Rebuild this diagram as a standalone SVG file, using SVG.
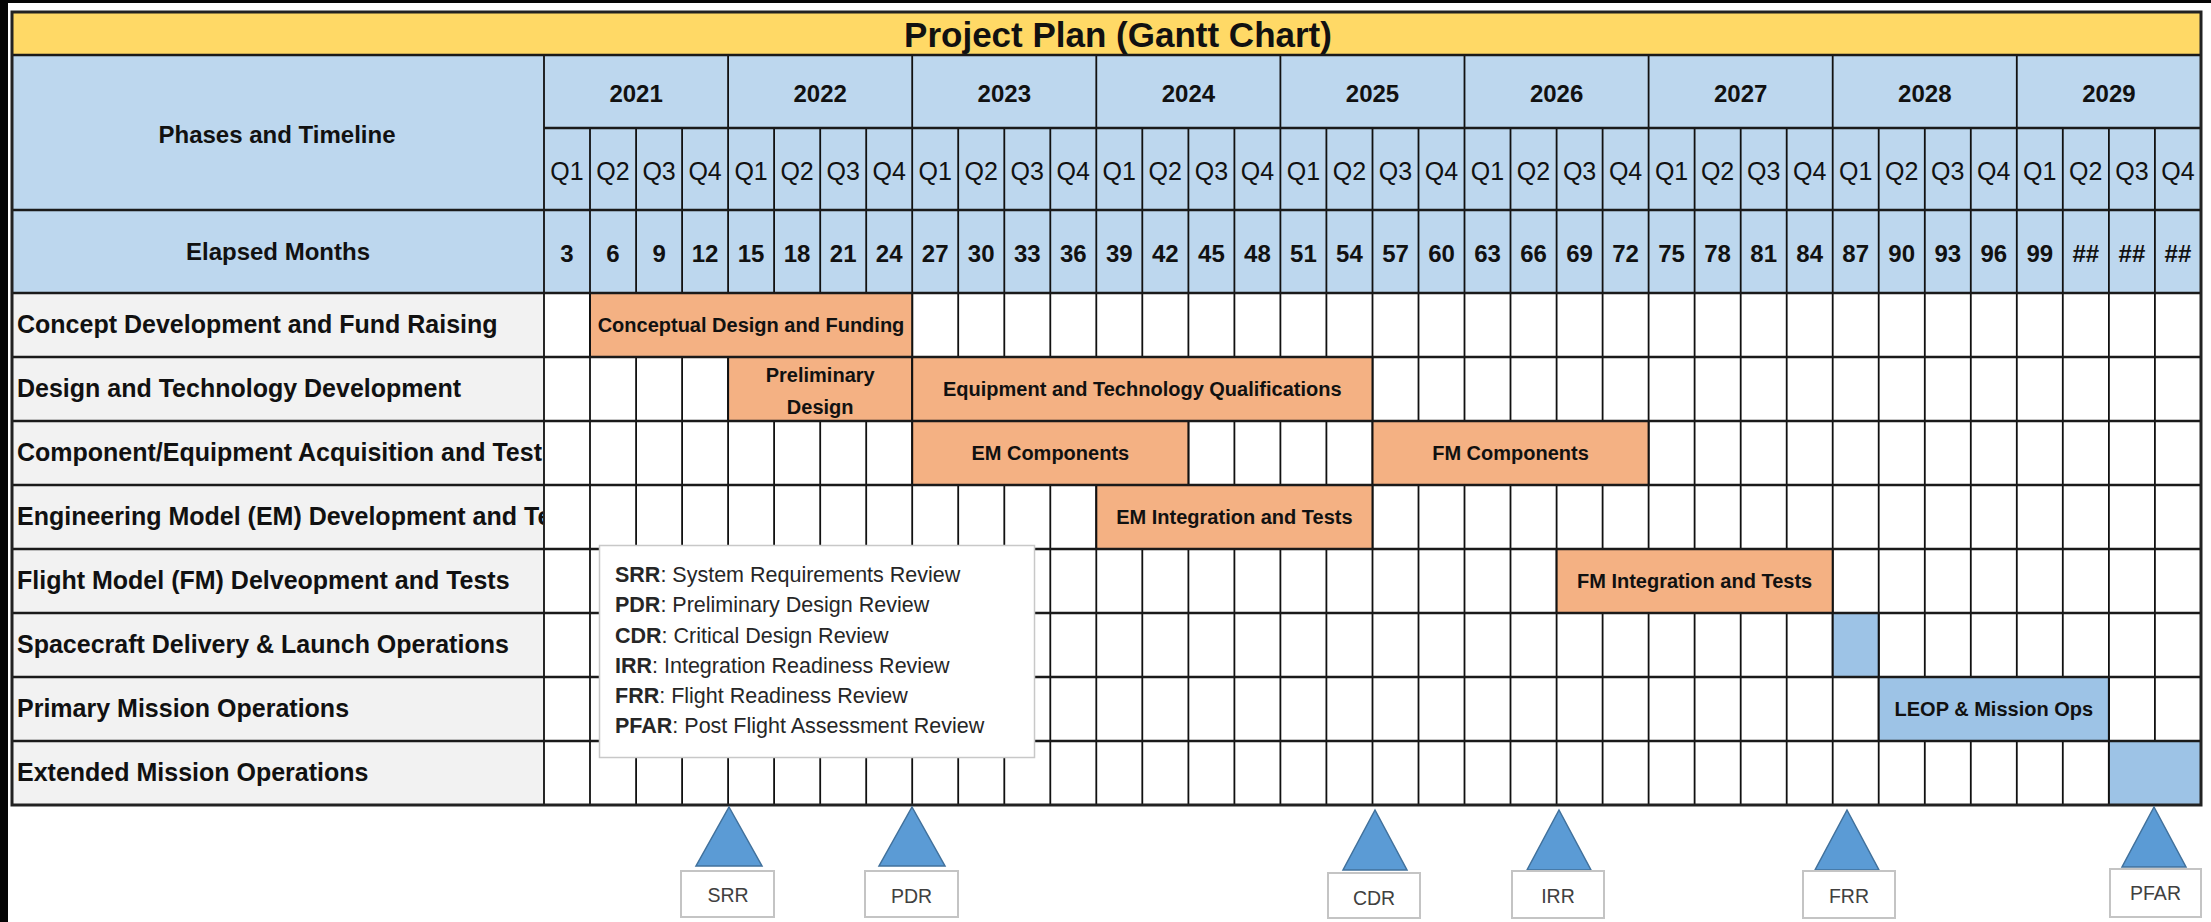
<svg xmlns="http://www.w3.org/2000/svg" width="2211" height="922" viewBox="0 0 2211 922">
  <defs>
    <style>
      .t { font-family: "Liberation Sans", Arial, sans-serif; fill: #111; }
      .b { font-weight: bold; }
      .c { text-anchor: middle; }
      .title { font-size: 35px; font-weight: bold; }
      .hdr { font-size: 24px; font-weight: bold; }
      .yr { font-size: 24px; font-weight: bold; }
      .q { font-size: 25px; }
      .num { font-size: 24px; font-weight: bold; }
      .lbl { font-size: 25px; font-weight: bold; }
      .bar { font-size: 20px; font-weight: bold; }
      .leg { font-size: 21.5px; fill: #262626; }
      .ms { font-size: 19.5px; fill: #404040; }
      .vl { stroke: #111; stroke-width: 1.8; }
      .hl { stroke: #1a1a1a; stroke-width: 2.6; }
      .orange { fill: #F4B183; stroke: #111; stroke-width: 2; }
      .blue { fill: #9DC3E6; stroke: #111; stroke-width: 2; }
      .tri { fill: #5B9BD5; stroke: #41719C; stroke-width: 1.5; }
      .msbox { fill: #fff; stroke: #C4C4C4; stroke-width: 2; }
    </style>
    <clipPath id="labelClip">
      <rect x="12" y="293" width="531" height="512"/>
    </clipPath>
  </defs>

  <!-- page background -->
  <rect x="0" y="0" width="2211" height="922" fill="#fff"/>
  <rect x="0" y="0" width="8" height="922" fill="#050505"/>
  <rect x="0" y="0" width="2211" height="3" fill="#050505"/>

  <!-- title band -->
  <g id="title">
    <rect x="12" y="12" width="2189" height="43" fill="#FFD966"/>
    <text class="t title c" x="1118" y="47">Project Plan (Gantt Chart)</text>
  </g>

  <!-- header area -->
  <g id="header">
    <rect x="12" y="55" width="2189" height="238" fill="#BDD7EE"/>
    <text class="t hdr c" x="277" y="143">Phases and Timeline</text>
    <text class="t hdr c" x="278" y="260">Elapsed Months</text>
    <g id="years">
      <text class="t yr c" x="636.1" y="102">2021</text>
      <text class="t yr c" x="820.2" y="102">2022</text>
      <text class="t yr c" x="1004.3" y="102">2023</text>
      <text class="t yr c" x="1188.4" y="102">2024</text>
      <text class="t yr c" x="1372.5" y="102">2025</text>
      <text class="t yr c" x="1556.6" y="102">2026</text>
      <text class="t yr c" x="1740.7" y="102">2027</text>
      <text class="t yr c" x="1924.8" y="102">2028</text>
      <text class="t yr c" x="2108.9" y="102">2029</text>
    </g>
    <g id="quarters">
      <text class="t q c" x="567" y="180">Q1</text><text class="t q c" x="613" y="180">Q2</text><text class="t q c" x="659.1" y="180">Q3</text><text class="t q c" x="705.1" y="180">Q4</text>
      <text class="t q c" x="751.1" y="180">Q1</text><text class="t q c" x="797.1" y="180">Q2</text><text class="t q c" x="843.2" y="180">Q3</text><text class="t q c" x="889.2" y="180">Q4</text>
      <text class="t q c" x="935.2" y="180">Q1</text><text class="t q c" x="981.2" y="180">Q2</text><text class="t q c" x="1027.3" y="180">Q3</text><text class="t q c" x="1073.3" y="180">Q4</text>
      <text class="t q c" x="1119.3" y="180">Q1</text><text class="t q c" x="1165.3" y="180">Q2</text><text class="t q c" x="1211.4" y="180">Q3</text><text class="t q c" x="1257.4" y="180">Q4</text>
      <text class="t q c" x="1303.4" y="180">Q1</text><text class="t q c" x="1349.4" y="180">Q2</text><text class="t q c" x="1395.5" y="180">Q3</text><text class="t q c" x="1441.5" y="180">Q4</text>
      <text class="t q c" x="1487.5" y="180">Q1</text><text class="t q c" x="1533.5" y="180">Q2</text><text class="t q c" x="1579.6" y="180">Q3</text><text class="t q c" x="1625.6" y="180">Q4</text>
      <text class="t q c" x="1671.6" y="180">Q1</text><text class="t q c" x="1717.6" y="180">Q2</text><text class="t q c" x="1763.7" y="180">Q3</text><text class="t q c" x="1809.7" y="180">Q4</text>
      <text class="t q c" x="1855.7" y="180">Q1</text><text class="t q c" x="1901.7" y="180">Q2</text><text class="t q c" x="1947.8" y="180">Q3</text><text class="t q c" x="1993.8" y="180">Q4</text>
      <text class="t q c" x="2039.8" y="180">Q1</text><text class="t q c" x="2085.8" y="180">Q2</text><text class="t q c" x="2131.9" y="180">Q3</text><text class="t q c" x="2177.9" y="180">Q4</text>
    </g>
    <g id="months">
      <text class="t num c" x="567" y="262">3</text><text class="t num c" x="613" y="262">6</text><text class="t num c" x="659.1" y="262">9</text><text class="t num c" x="705.1" y="262">12</text>
      <text class="t num c" x="751.1" y="262">15</text><text class="t num c" x="797.1" y="262">18</text><text class="t num c" x="843.2" y="262">21</text><text class="t num c" x="889.2" y="262">24</text>
      <text class="t num c" x="935.2" y="262">27</text><text class="t num c" x="981.2" y="262">30</text><text class="t num c" x="1027.3" y="262">33</text><text class="t num c" x="1073.3" y="262">36</text>
      <text class="t num c" x="1119.3" y="262">39</text><text class="t num c" x="1165.3" y="262">42</text><text class="t num c" x="1211.4" y="262">45</text><text class="t num c" x="1257.4" y="262">48</text>
      <text class="t num c" x="1303.4" y="262">51</text><text class="t num c" x="1349.4" y="262">54</text><text class="t num c" x="1395.5" y="262">57</text><text class="t num c" x="1441.5" y="262">60</text>
      <text class="t num c" x="1487.5" y="262">63</text><text class="t num c" x="1533.5" y="262">66</text><text class="t num c" x="1579.6" y="262">69</text><text class="t num c" x="1625.6" y="262">72</text>
      <text class="t num c" x="1671.6" y="262">75</text><text class="t num c" x="1717.6" y="262">78</text><text class="t num c" x="1763.7" y="262">81</text><text class="t num c" x="1809.7" y="262">84</text>
      <text class="t num c" x="1855.7" y="262">87</text><text class="t num c" x="1901.7" y="262">90</text><text class="t num c" x="1947.8" y="262">93</text><text class="t num c" x="1993.8" y="262">96</text>
      <text class="t num c" x="2039.8" y="262">99</text><text class="t num c" x="2085.8" y="262">##</text><text class="t num c" x="2131.9" y="262">##</text><text class="t num c" x="2177.9" y="262">##</text>
    </g>
  </g>

  <!-- data area backgrounds -->
  <rect x="12" y="293" width="532" height="512" fill="#F2F2F2"/>
  <rect x="544" y="293" width="1657" height="512" fill="#fff"/>

  <!-- vertical grid lines -->
  <g id="grid-v">
    <path class="vl" d="M544 55V805 M728.1 55V128 M912.2 55V128 M1096.3 55V128 M1280.4 55V128 M1464.5 55V128 M1648.6 55V128 M1832.7 55V128 M2016.8 55V128"/>
    <path class="vl" d="M590 128V805 M636.1 128V805 M682.1 128V805 M728.1 128V805 M774.1 128V805 M820.2 128V805 M866.2 128V805 M912.2 128V805 M958.2 128V805 M1004.3 128V805 M1050.3 128V805 M1096.3 128V805 M1142.3 128V805 M1188.4 128V805 M1234.4 128V805 M1280.4 128V805 M1326.4 128V805 M1372.5 128V805 M1418.5 128V805 M1464.5 128V805 M1510.5 128V805 M1556.6 128V805 M1602.6 128V805 M1648.6 128V805 M1694.6 128V805 M1740.7 128V805 M1786.7 128V805 M1832.7 128V805 M1878.7 128V805 M1924.8 128V805 M1970.8 128V805 M2016.8 128V805 M2062.8 128V805 M2108.9 128V805 M2154.9 128V805"/>
  </g>

  <!-- phase rows: label + bars -->
  <g id="row-concept">
    <text class="t lbl" x="17" y="333" clip-path="url(#labelClip)">Concept Development and Fund Raising</text>
    <rect class="orange" x="590" y="293" width="322.2" height="64"/>
    <text class="t bar c" x="751" y="332">Conceptual Design and Funding</text>
  </g>
  <g id="row-design">
    <text class="t lbl" x="17" y="397" clip-path="url(#labelClip)">Design and Technology Development</text>
    <rect class="orange" x="728.1" y="357" width="184.1" height="64"/>
    <text class="t bar c" x="820.2" y="382">Preliminary</text>
    <text class="t bar c" x="820.2" y="414">Design</text>
    <rect class="orange" x="912.2" y="357" width="460.3" height="64"/>
    <text class="t bar c" x="1142.3" y="396">Equipment and Technology Qualifications</text>
  </g>
  <g id="row-components">
    <text class="t lbl" x="17" y="461" clip-path="url(#labelClip)">Component/Equipment Acquisition and Test</text>
    <rect class="orange" x="912.2" y="421" width="276.2" height="64"/>
    <text class="t bar c" x="1050.3" y="460">EM Components</text>
    <rect class="orange" x="1372.5" y="421" width="276.1" height="64"/>
    <text class="t bar c" x="1510.5" y="460">FM Components</text>
  </g>
  <g id="row-em">
    <text class="t lbl" x="17" y="525" clip-path="url(#labelClip)">Engineering Model (EM) Development and Tests</text>
    <rect class="orange" x="1096.3" y="485" width="276.2" height="64"/>
    <text class="t bar c" x="1234.4" y="524">EM Integration and Tests</text>
  </g>
  <g id="row-fm">
    <text class="t lbl" x="17" y="589" clip-path="url(#labelClip)">Flight Model (FM) Delveopment and Tests</text>
    <rect class="orange" x="1556.6" y="549" width="276.1" height="64"/>
    <text class="t bar c" x="1694.6" y="588">FM Integration and Tests</text>
  </g>
  <g id="row-delivery">
    <text class="t lbl" x="17" y="653" clip-path="url(#labelClip)">Spacecraft Delivery &amp; Launch Operations</text>
    <rect class="blue" x="1832.7" y="613" width="46" height="64"/>
  </g>
  <g id="row-primary">
    <text class="t lbl" x="17" y="717" clip-path="url(#labelClip)">Primary Mission Operations</text>
    <rect class="blue" x="1878.7" y="677" width="230.2" height="64"/>
    <text class="t bar c" x="1993.8" y="716">LEOP &amp; Mission Ops</text>
  </g>
  <g id="row-extended">
    <text class="t lbl" x="17" y="781" clip-path="url(#labelClip)">Extended Mission Operations</text>
    <rect class="blue" x="2108.9" y="741" width="92.1" height="64"/>
  </g>

  <!-- horizontal grid lines and outer frame -->
  <g id="grid-h">
    <path class="hl" d="M12 55H2201 M544 128H2201 M12 210H2201 M12 293H2201 M12 357H2201 M12 421H2201 M12 485H2201 M12 549H2201 M12 613H2201 M12 677H2201 M12 741H2201"/>
    <rect x="12" y="12" width="2189" height="793" fill="none" stroke="#222" stroke-width="3"/>
  </g>

  <!-- review legend -->
  <g id="legend">
    <rect x="599.5" y="545.5" width="435" height="212" fill="#fff" stroke="#C8C8C8" stroke-width="1.5"/>
    <text class="t leg" x="615" y="582"><tspan class="b">SRR</tspan>: System Requirements Review</text>
    <text class="t leg" x="615" y="612"><tspan class="b">PDR</tspan>: Preliminary Design Review</text>
    <text class="t leg" x="615" y="643"><tspan class="b">CDR</tspan>: Critical Design Review</text>
    <text class="t leg" x="615" y="673"><tspan class="b">IRR</tspan>: Integration Readiness Review</text>
    <text class="t leg" x="615" y="703"><tspan class="b">FRR</tspan>: Flight Readiness Review</text>
    <text class="t leg" x="615" y="733"><tspan class="b">PFAR</tspan>: Post Flight Assessment Review</text>
  </g>

  <!-- review milestones -->
  <g id="ms-srr">
    <polygon class="tri" points="729,807 762,866 696,866"/>
    <rect class="msbox" x="681" y="871" width="93" height="46"/>
    <text class="t ms c" x="728" y="902">SRR</text>
  </g>
  <g id="ms-pdr">
    <polygon class="tri" points="912,807 945,866 879,866"/>
    <rect class="msbox" x="865" y="871" width="93" height="46"/>
    <text class="t ms c" x="911.5" y="903">PDR</text>
  </g>
  <g id="ms-cdr">
    <polygon class="tri" points="1375,810 1407,870 1343,870"/>
    <rect class="msbox" x="1328" y="873" width="92" height="45"/>
    <text class="t ms c" x="1374" y="905">CDR</text>
  </g>
  <g id="ms-irr">
    <polygon class="tri" points="1559,810 1591,870 1527,870"/>
    <rect class="msbox" x="1512" y="871" width="92" height="47"/>
    <text class="t ms c" x="1558" y="903">IRR</text>
  </g>
  <g id="ms-frr">
    <polygon class="tri" points="1847,810 1879,870 1815,870"/>
    <rect class="msbox" x="1803" y="871" width="92" height="47"/>
    <text class="t ms c" x="1849" y="903">FRR</text>
  </g>
  <g id="ms-pfar">
    <polygon class="tri" points="2154,807 2186,867 2122,867"/>
    <rect class="msbox" x="2110" y="869" width="91" height="48"/>
    <text class="t ms c" x="2155.5" y="900">PFAR</text>
  </g>
</svg>
